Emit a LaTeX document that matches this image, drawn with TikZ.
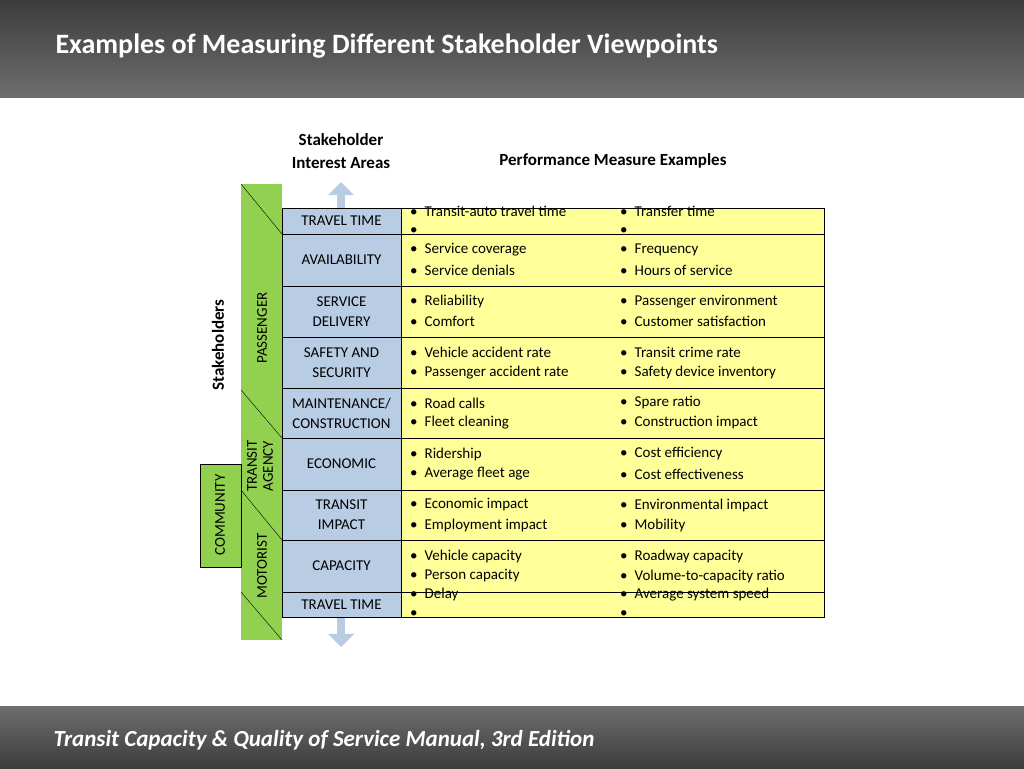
\documentclass[tikz,border=0pt]{standalone}
\usepackage{fontspec}
\setmainfont{Carlito}
\usetikzlibrary{shapes.arrows}
\definecolor{areablue}{RGB}{184,204,228}
\definecolor{measyellow}{RGB}{255,255,153}
\definecolor{stakegreen}{RGB}{146,208,80}
\definecolor{barA}{RGB}{60,60,60}
\definecolor{barB}{RGB}{110,110,110}
\begin{document}
\begin{tikzpicture}[x=1pt,y=-1pt,
    area/.style={draw=black,fill=areablue,font=\fontsize{15}{16}\selectfont,align=center},
    meas/.style={draw=black,fill=measyellow},
    item/.style={anchor=west,font=\fontsize{15}{16}\selectfont,inner sep=0pt},
    stake/.style={rotate=90,font=\fontsize{15}{16}\selectfont,align=center}]
    \useasboundingbox (0,0) rectangle (1024,768);
    % bars at top and bottom
    \shade[top color=barA,bottom color=barB] (0,0) rectangle (1024,97);
    \shade[top color=barB,bottom color=barA] (0,706) rectangle (1024,768);
    \node[anchor=west,text=white,font=\fontsize{28}{30}\selectfont\bfseries] (title) at (52,46)
        {Examples of Measuring Different Stakeholder Viewpoints};
    \node[anchor=west,text=white,font=\fontsize{23}{25}\selectfont\bfseries\itshape] (foot) at (50,740)
        {Transit Capacity \& Quality of Service Manual, 3rd Edition};
    % column heads
    \node[align=center,font=\fontsize{17}{23}\selectfont\bfseries] (areahead) at (341,151)
        {Stakeholder\\Interest Areas};
    \node[font=\fontsize{17}{19}\selectfont\bfseries] (meashead) at (613,161)
        {Performance Measure Examples};
    % arrows
    \node[single arrow,fill=areablue,rotate=90,minimum height=26pt,minimum width=26pt,
        single arrow head extend=5pt,inner sep=2pt] (uparr) at (341,197) {};
    \node[single arrow,fill=areablue,rotate=-90,minimum height=30pt,minimum width=26pt,
        single arrow head extend=5pt,inner sep=2pt] (dnarr) at (341,630) {};
    % stakeholder column
    \fill[stakegreen] (241,184) rectangle (282,640);
    \draw[fill=stakegreen] (200,464) rectangle (241,567);
    \foreach \ya/\yb in {184/234,390/438,490/540,592/640}
        \draw (241,\ya) -- (282,\yb);
    \node[stake,font=\fontsize{17}{19}\selectfont\bfseries] (stk) at (218,345) {Stakeholders};
    \node[stake] (pass) at (262,328) {PASSENGER};
    \node[stake] (agency) at (260,466) {TRANSIT\\AGENCY};
    \node[stake] (motor) at (262,566) {MOTORIST};
    \node[stake] (comm) at (220,515) {COMMUNITY};
    % rows: top/bottom/area/col1 a/col1 b/col2 a/col2 b
    \foreach \ya/\yb/\lab/\pa/\pb/\qa/\qb in {
        208/234/{TRAVEL TIME}/{Transit-auto travel time}//{Transfer time}/,
        234/286/{AVAILABILITY}/{Service coverage}/{Service denials}/{Frequency}/{Hours of service},
        286/337/{SERVICE\\DELIVERY}/{Reliability}/{Comfort}/{Passenger environment}/{Customer satisfaction},
        337/388/{SAFETY AND\\SECURITY}/{Vehicle accident rate}/{Passenger accident rate}/{Transit crime rate}/{Safety device inventory},
        388/438/{MAINTENANCE/\\CONSTRUCTION}/{Road calls}/{Fleet cleaning}/{Spare ratio}/{Construction impact},
        438/490/{ECONOMIC}/{Ridership}/{Average fleet age}/{Cost efficiency}/{Cost effectiveness},
        490/540/{TRANSIT\\IMPACT}/{Economic impact}/{Employment impact}/{Environmental impact}/{Mobility},
        540/592/{CAPACITY}/{Vehicle capacity}/{Person capacity}/{Roadway capacity}/{Volume-to-capacity ratio},
        592/617/{TRAVEL TIME}/{Delay}//{Average system speed}/}{
      \draw[meas] (401,\ya) rectangle (824,\yb);
      \draw[area] (282,\ya) rectangle (401,\yb);
      \node[align=center,font=\fontsize{15}{20}\selectfont] at (341.5,{(\ya+\yb)/2}) {\lab};
      \if\relax\detokenize{\pb}\relax
        \node[item] at (410,{(\ya+\yb)/2}) {\textbullet\hspace{7pt}\pa};
        \node[item] at (620,{(\ya+\yb)/2}) {\textbullet\hspace{7pt}\qa};
      \else
        \node[item] at (410,{(\ya+\yb)/2-10}) {\textbullet\hspace{7pt}\pa};
        \node[item] at (410,{(\ya+\yb)/2+10}) {\textbullet\hspace{7pt}\pb};
        \node[item] at (620,{(\ya+\yb)/2-10}) {\textbullet\hspace{7pt}\qa};
        \node[item] at (620,{(\ya+\yb)/2+10}) {\textbullet\hspace{7pt}\qb};
      \fi
    }
\end{tikzpicture}
\end{document}
